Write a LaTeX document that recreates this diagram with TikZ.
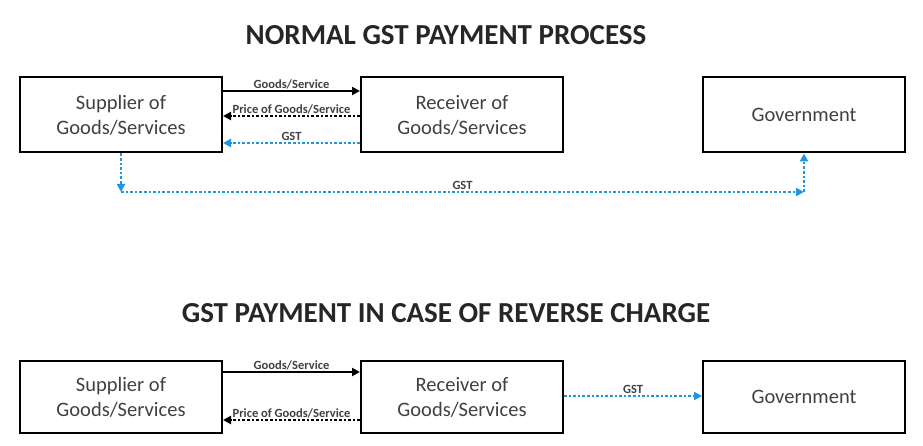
\documentclass[tikz,border=0pt]{standalone}
\usepackage{fontspec}
\setmainfont{Carlito}
\usetikzlibrary{arrows.meta}
\definecolor{gstblue}{RGB}{30,150,230}
\tikzset{
  party/.style={draw, line width=2pt, minimum width=202pt, minimum height=75pt,
    align=center, font=\fontsize{20.5}{25}\selectfont, text=black!75},
  title/.style={font=\bfseries\fontsize{29}{32}\selectfont, text=black!85},
  lbl/.style={font=\bfseries\fontsize{12.5}{13}\selectfont, text=black!75, inner sep=1pt, above},
  goods/.style={line width=2pt, -{Triangle[length=8pt,width=8pt]}},
  price/.style={line width=2.6pt, dotted, -{Triangle[length=8pt,width=8pt]}},
  gst/.style={line width=2.6pt, dotted, gstblue, -{Triangle[length=8pt,width=8pt]}}
}
\begin{document}
\begin{tikzpicture}[x=1pt, y=-1pt]
  \useasboundingbox (0,0) rectangle (923,446);
  % normal process
  \node[title] (t1) at (446,35) {NORMAL GST PAYMENT PROCESS};
  \node[party] (sup1) at (121,115) {Supplier of\\Goods/Services};
  \node[party] (rec1) at (462,115) {Receiver of\\Goods/Services};
  \node[party] (gov1) at (804,115) {Government};
  \draw[goods] (sup1.east |- 0,91) -- node[lbl] {Goods/Service} (rec1.west |- 0,91);
  \draw[price] (rec1.west |- 0,116) -- node[lbl] {Price of Goods/Service} (sup1.east |- 0,116);
  \draw[gst] (rec1.west |- 0,143) -- node[lbl, text=black!75] {GST} (sup1.east |- 0,143);
  \coordinate (c1) at (121,192);
  \coordinate (c2) at (804,192);
  \draw[gst] (sup1.south) -- (c1);
  \draw[gst] (c1) -- node[lbl, text=black!75] {GST} (c2);
  \draw[gst] (c2) -- (gov1.south);
  % reverse charge
  \node[title] (t2) at (446,313) {GST PAYMENT IN CASE OF REVERSE CHARGE};
  \node[party, minimum height=72pt] (sup2) at (121,397) {Supplier of\\Goods/Services};
  \node[party, minimum height=72pt] (rec2) at (462,397) {Receiver of\\Goods/Services};
  \node[party, minimum height=72pt] (gov2) at (804,397) {Government};
  \draw[goods] (sup2.east |- 0,372) -- node[lbl] {Goods/Service} (rec2.west |- 0,372);
  \draw[price] (rec2.west |- 0,420) -- node[lbl] {Price of Goods/Service} (sup2.east |- 0,420);
  \draw[gst] (rec2.east |- 0,396) -- node[lbl, text=black!75] {GST} (gov2.west |- 0,396);
\end{tikzpicture}
\end{document}
